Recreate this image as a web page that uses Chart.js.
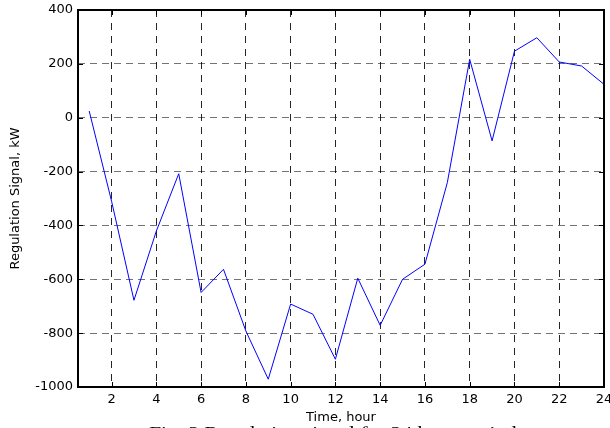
<!DOCTYPE html>
<html>
<head>
<meta charset="utf-8">
<script src="https://cdn.jsdelivr.net/npm/chart.js@4.4.0/dist/chart.umd.min.js"></script>
<style>
  html, body { margin: 0; padding: 0; background: #fff; overflow: hidden; }
  #caja { position: relative; width: 610px; height: 428px; overflow: hidden; }
  #leyenda { position: absolute; left: 28px; width: 610px; top: 424px; text-align: center;
             font: 17px/17px "Liberation Serif", "DejaVu Serif", serif; color: #000; white-space: nowrap;
             transform: scaleX(1.26); transform-origin: center top; }
</style>
</head>
<body>
<div id="caja">
  <canvas id="grafica" width="610" height="428"></canvas>
  <div id="leyenda">Fig. 2 Regulation signal for 24 hour period</div>
</div>
<script>
// datos
const horas = [1, 2, 3, 4, 5, 6, 7, 8, 9, 10, 11, 12, 13, 14, 15, 16, 17, 18, 19, 20, 21, 22, 23, 24];
const senal = [25, -310, -678, -421, -208, -649, -563, -792, -971, -692, -730, -897,
               -596, -771, -600, -544, -241, 217, -86, 247, 297, 207, 192, 124];
const ticksX = [2, 4, 6, 8, 10, 12, 14, 16, 18, 20, 22, 24];
const ticksY = [-1000, -800, -600, -400, -200, 0, 200, 400];

const fuente = { family: 'DejaVu Sans, Liberation Sans, sans-serif', size: 13 };

// marco negro y marcas de eje hacia dentro (estilo matlab)
const marco = {
  id: 'marco',
  afterDraw(chart) {
    const { ctx, chartArea: a, scales } = chart;
    ctx.save();
    ctx.strokeStyle = '#000';
    ctx.lineWidth = 1;
    ctx.beginPath();
    ticksX.forEach(v => {
      const x = Math.round(scales.x.getPixelForValue(v)) + 0.5;
      ctx.moveTo(x, a.bottom); ctx.lineTo(x, a.bottom - 5);
      ctx.moveTo(x, a.top); ctx.lineTo(x, a.top + 5);
    });
    ticksY.forEach(v => {
      const y = Math.round(scales.y.getPixelForValue(v)) + 0.5;
      ctx.moveTo(a.left, y); ctx.lineTo(a.left + 5, y);
      ctx.moveTo(a.right, y); ctx.lineTo(a.right - 5, y);
    });
    ctx.stroke();
    ctx.lineWidth = 2;
    ctx.strokeRect(a.left, a.top, a.right - a.left, a.bottom - a.top);
    ctx.restore();
  }
};

new Chart(document.getElementById('grafica'), {
  type: 'line',
  data: {
    datasets: [{
      data: horas.map((h, i) => ({ x: h, y: senal[i] })),
      borderColor: '#0000ff',
      borderWidth: 1,
      pointRadius: 0,
      tension: 0,
      fill: false
    }]
  },
  options: {
    responsive: false,
    animation: false,
    layout: { padding: { top: 10, right: 6, left: 0, bottom: 3 } },
    plugins: { legend: { display: false }, tooltip: { enabled: false } },
    scales: {
      x: {
        type: 'linear',
        min: 0.5,
        max: 24,
        afterBuildTicks: s => { s.ticks = ticksX.map(v => ({ value: v })); },
        afterFit: s => { s.height = 38; s.paddingLeft = 0; s.paddingRight = 0; },
        grid: { color: 'rgba(0,0,0,0.85)', lineWidth: 1, drawTicks: false },
        border: { display: false, dash: [7, 6] },
        ticks: { color: '#000', font: fuente, padding: 5, maxRotation: 0, callback: v => String(v) },
        title: { display: true, text: 'Time, hour', color: '#000', font: fuente, padding: { top: 0, bottom: 0 } }
      },
      y: {
        min: -1000,
        max: 400,
        afterBuildTicks: s => { s.ticks = ticksY.map(v => ({ value: v })); },
        afterFit: s => { s.width = 78; s.paddingTop = 0; s.paddingBottom = 0; },
        grid: { color: 'rgba(0,0,0,0.55)', lineWidth: 1, drawTicks: false },
        border: { display: false, dash: [7, 5] },
        ticks: { color: '#000', font: fuente, padding: 5, callback: v => String(v) },
        title: { display: true, text: 'Regulation Signal, kW', color: '#000', font: fuente, padding: { top: 8, bottom: 0 } }
      }
    }
  },
  plugins: [marco]
});
</script>
</body>
</html>
